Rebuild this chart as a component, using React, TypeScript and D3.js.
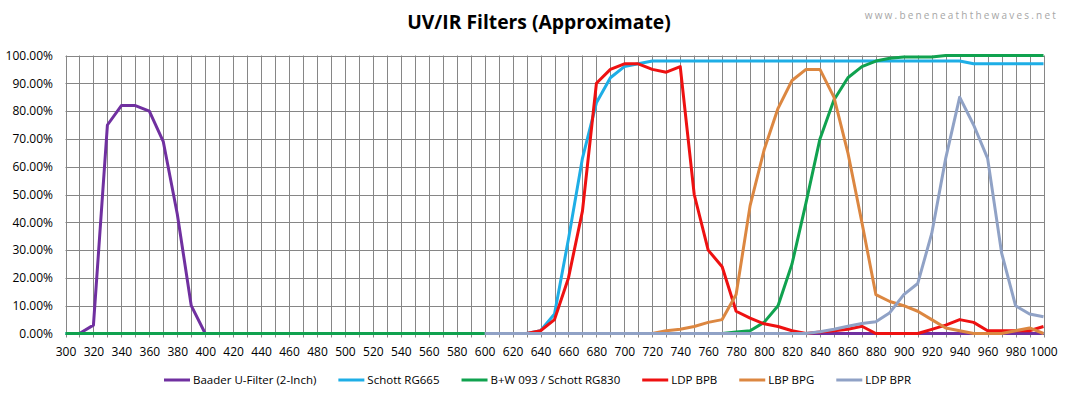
import * as d3 from "d3";
import { useEffect, useRef } from "react";

// wavelength axis (nm)
const xTicks = [300, 310, 320, 330, 340, 350, 360, 370, 380, 390, 400, 410, 420, 430, 440, 450, 460, 470, 480, 490, 500, 510, 520, 530, 540, 550, 560, 570, 580, 590, 600, 610, 620, 630, 640, 650, 660, 670, 680, 690, 700, 710, 720, 730, 740, 750, 760, 770, 780, 790, 800, 810, 820, 830, 840, 850, 860, 870, 880, 890, 900, 910, 920, 930, 940, 950, 960, 970, 980, 990, 1000];
const yTicks = [0, 10, 20, 30, 40, 50, 60, 70, 80, 90, 100];

// transmission in %, each series starts at its own wavelength, step 10nm
const baaderStart = 310;
const baader = [0, 3, 75, 82, 82, 80, 69, 43, 10, 0,
  0, 0, 0, 0, 0, 0, 0, 0, 0, 0, 0, 0, 0, 0, 0, 0, 0, 0, 0, 0,
  0, 0, 0, 0, 0, 0, 0, 0, 0, 0, 0, 0, 0, 0, 0, 0, 0, 0, 0, 0,
  0, 0, 0, 0, 0, 0, 0, 0, 0, 0, 0, 0, 0, 0, 0, 0, 0, 0, 0, 0];

const rg665Start = 300;
const rg665 = [0, 0, 0, 0, 0, 0, 0, 0, 0, 0, 0, 0, 0, 0, 0, 0, 0, 0, 0, 0,
  0, 0, 0, 0, 0, 0, 0, 0, 0, 0, 0, 0, 0, 0,
  1, 7, 34, 63, 83, 92, 96, 97, 98,
  98, 98, 98, 98, 98, 98, 98, 98, 98, 98, 98, 98, 98, 98, 98, 98, 98, 98, 98, 98, 98, 98,
  97, 97, 97, 97, 97, 97];

const rg830Start = 300;
const rg830 = [0, 0, 0, 0, 0, 0, 0, 0, 0, 0, 0, 0, 0, 0, 0, 0, 0, 0, 0, 0,
  0, 0, 0, 0, 0, 0, 0, 0, 0, 0, 0, 0, 0, 0, 0, 0, 0, 0, 0, 0,
  0, 0, 0, 0, 0, 0, 0, 0, 0.5,
  1, 4, 10, 25, 47, 70, 84, 92, 96, 98, 99, 99.5, 99.5, 99.5,
  100, 100, 100, 100, 100, 100, 100, 100];

const bpbStart = 630;
const bpb = [0, 1, 5, 20, 44, 90, 95, 97, 97, 95,
  94, 96, 50, 30, 24, 8, 5.5, 3.5, 2.5, 1,
  0, 0.5, 1, 1.5, 2.6, 0, 0, 0, 0, 1.5,
  3, 5, 4, 1, 1, 1, 1, 2.5];

const bpgStart = 720;
const bpg = [0, 1, 1.5, 2.5, 4, 5, 14, 46, 66, 81,
  91, 95, 95, 85, 65, 40, 14, 11.5, 10, 8,
  5, 2, 1, 0, 0, 0, 1, 2, 0];

const bprStart = 600;
const bpr = [0, 0, 0, 0, 0, 0, 0, 0, 0, 0, 0, 0, 0, 0, 0, 0, 0, 0, 0, 0, 0, 0, 0, 0,
  0.6, 1.5, 2.6, 3.6, 4.2, 7.5, 14, 18, 36, 63, 85, 75, 63, 29, 10, 7, 6];

const seriesNames = ["Baader U-Filter (2-Inch)", "Schott RG665", "B+W 093 / Schott RG830", "LDP BPB", "LBP BPG", "LDP BPR"];
const seriesColors = ["#7030a0", "#1eaee6", "#10a24f", "#ee1111", "#dc8741", "#90a2c6"];
const seriesData = [baader, rg665, rg830, bpb, bpg, bpr];
const seriesStarts = [baaderStart, rg665Start, rg830Start, bpbStart, bpgStart, bprStart];

const W = 1069;
const H = 396;
const FONT = "'Open Sans', 'Noto Sans', sans-serif";

export default function App() {
  const svgRef = useRef<SVGSVGElement>(null);

  useEffect(() => {
    if (!svgRef.current) return;
    const svg = d3.select(svgRef.current);
    svg.selectAll("*").remove();

    const x = d3.scaleLinear().domain([300, 1000]).range([65.5, 1043.5]);
    const y = d3.scaleLinear().domain([0, 100]).range([333.5, 55.5]);

    // gridlines
    const grid = svg.append("g").attr("stroke", "#868686").attr("stroke-width", 1);
    grid.selectAll(".vg")
      .data(xTicks)
      .enter()
      .append("line")
      .attr("x1", (d) => Math.round(x(d)) + 0.5)
      .attr("x2", (d) => Math.round(x(d)) + 0.5)
      .attr("y1", y(100))
      .attr("y2", y(0) + 4);
    grid.selectAll(".hg")
      .data(yTicks)
      .enter()
      .append("line")
      .attr("x1", x(300))
      .attr("x2", x(1000) + 1)
      .attr("y1", (d) => Math.round(y(d)) + 0.5)
      .attr("y2", (d) => Math.round(y(d)) + 0.5);

    // y labels
    svg.append("g")
      .selectAll("text")
      .data(yTicks)
      .enter()
      .append("text")
      .attr("x", 53)
      .attr("y", (d) => y(d))
      .attr("dy", "0.35em")
      .attr("text-anchor", "end")
      .attr("font-family", FONT)
      .attr("font-size", 12)
      .text((d) => d3.format(".2f")(d) + "%");

    // x labels every 20nm
    svg.append("g")
      .selectAll("text")
      .data(xTicks.filter((d) => d % 20 === 0))
      .enter()
      .append("text")
      .attr("x", (d) => x(d) + 0.5)
      .attr("y", 352)
      .attr("dy", "0.35em")
      .attr("text-anchor", "middle")
      .attr("font-family", FONT)
      .attr("font-size", 12)
      .text((d) => d);

    // series lines, drawn in order so later ones sit on top
    seriesData.forEach((vals, s) => {
      const pts = vals.map((v, i) => [seriesStarts[s] + i * 10, v] as [number, number]);
      const ln = d3.line<[number, number]>()
        .x((d) => x(d[0]))
        .y((d) => y(d[1]));
      svg.append("path")
        .datum(pts)
        .attr("fill", "none")
        .attr("stroke", seriesColors[s])
        .attr("stroke-width", 3)
        .attr("stroke-linejoin", "round")
        .attr("d", ln);
    });

    // legend, laid out from measured text widths
    const legend = svg.append("g");
    const items = seriesNames.map((name, i) => {
      const g = legend.append("g");
      g.append("line")
        .attr("x1", 0).attr("x2", 26)
        .attr("y1", 0).attr("y2", 0)
        .attr("stroke", seriesColors[i])
        .attr("stroke-width", 3);
      const t = g.append("text")
        .attr("x", 29)
        .attr("dy", "0.35em")
        .attr("font-family", FONT)
        .attr("font-size", 11.5)
        .text(name);
      const w = 29 + (t.node() as SVGTextElement).getComputedTextLength();
      return { g, w };
    });
    const gap = 22;
    const total = d3.sum(items, (d) => d.w) + gap * (items.length - 1);
    let cx = W / 2 + 3 - total / 2;
    items.forEach((it) => {
      it.g.attr("transform", `translate(${cx},380)`);
      cx += it.w + gap;
    });

    // title
    svg.append("text")
      .attr("x", 539)
      .attr("y", 22)
      .attr("dy", "0.35em")
      .attr("text-anchor", "middle")
      .attr("font-family", FONT)
      .attr("font-weight", "bold")
      .attr("font-size", 19.3)
      .text("UV/IR Filters (Approximate)");

    // watermark
    svg.append("text")
      .attr("x", 1058)
      .attr("y", 15)
      .attr("dy", "0.35em")
      .attr("text-anchor", "end")
      .attr("font-family", FONT)
      .attr("font-size", 10)
      .attr("letter-spacing", 2.2)
      .attr("fill", "#a6a6a6")
      .text("www.beneneaththewaves.net");
  }, []);

  return (
    <svg
      ref={svgRef}
      width={W}
      height={H}
      style={{ position: "absolute", left: 0, top: 0, background: "#fff" }}
    />
  );
}
